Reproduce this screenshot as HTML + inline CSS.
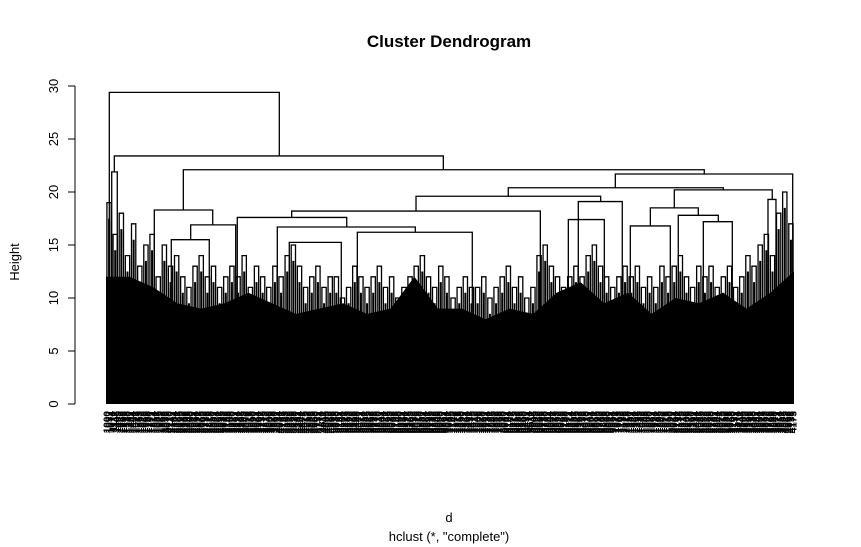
<!DOCTYPE html>
<html><head><meta charset="utf-8"><style>
html,body{margin:0;padding:0;background:#fff;}
svg{display:block;font-family:"Liberation Sans",Arial,sans-serif;}
</style></head><body>
<svg id="chart" width="861" height="547" viewBox="0 0 861 547">
<rect width="861" height="547" fill="#fff"/>
<text x="449" y="47" text-anchor="middle" font-size="17" font-weight="bold">Cluster Dendrogram</text>
<text transform="translate(19,262) rotate(-90)" text-anchor="middle" font-size="13">Height</text>
<text x="449" y="522" text-anchor="middle" font-size="13">d</text>
<text x="449" y="541" text-anchor="middle" font-size="13">hclust (*, "complete")</text>
<g id="yaxis"></g>
<g id="mass"></g>
<g id="tree"></g>
<g id="labels"></g>
</svg>
<script>
const yTicks = [0, 5, 10, 15, 20, 25, 30];
const mergeLeft  = [4.8, 12.1, 112.4, 740.3, 584.7, 450.6, 269.9, 686.5, 826.0, 791.2, 70.2, 123.1, 94.9, 190.8, 249.0, 672.0, 762.1, 831.8, 868.2, 962.2, 365.3, 266.4, 8.3];
const mergeRight = [251.9, 490.3, 869.6, 998.1, 897.2, 719.0, 631.3, 750.4, 968.4, 860.9, 155.1, 188.5, 150.1, 349.9, 449.6, 724.3, 820.2, 890.0, 910.3, 973.8, 532.4, 342.0, 16.4];
const mergeHeight= [29.4, 23.4, 22.1, 21.7, 20.4, 19.6, 18.2, 19.1, 20.2, 18.5, 18.3, 16.9, 15.5, 17.6, 16.7, 17.4, 16.8, 17.8, 17.2, 19.3, 16.2, 15.25, 21.9];
const leftHeight = [22.2, 21.9, 18.3, 20.4, 19.6, 18.2, 17.6, 17.4, 18.5, 16.8, 13.3, 15.5, 14.6, 15.8, 15.25, 15.0, 14.5, 14.5, 15.0, 15.0, 14.0, 14.0, 19.0];
const rightHeight= [23.4, 22.1, 21.7, 20.9, 20.2, 19.1, 15.8, 15.2, 19.3, 17.8, 16.9, 15.8, 14.8, 16.7, 16.2, 15.0, 15.2, 17.2, 14.8, 15.0, 14.5, 14.0, 20.0];
const massHeights = [12, 12, 11, 9.5, 9, 9.5, 10.5, 9.5, 8.5, 9, 9.5, 8.5, 9, 12, 9, 9, 8, 9, 8.5, 10.5, 11.5, 9.5, 10.5, 8.5, 10, 9.5, 10.5, 9, 10.5, 12.5];
const leafTops = [
 19,16,18,14,17,13,15,16,12,15,13,14,12,11,13,14,12,13,11,12,
 13,12,14,11,13,12,11,13,12,14,15,13,11,12,13,11,12,12,10,11,
 13,12,11,12,13,11,12,10,11,12,13,14,12,11,13,12,10,11,12,11,
 11,12,10,11,12,13,11,12,10,11,14,15,13,12,11,12,13,12,14,15,
 13,12,11,12,13,12,13,11,12,11,13,12,13,14,12,11,13,12,13,11,
 12,13,11,12,14,13,15,16,14,18,20,17];
const leafCount = 330;

const NS = "http://www.w3.org/2000/svg";
const X0 = 106, X1 = 794, Y0 = 404, Y30 = 86;
const xs = i => X0 + (i / 1000) * (X1 - X0);
const ys = h => Y0 - (h / 30) * (Y0 - Y30);
function mk(tag, attrs, parent) {
  const e = document.createElementNS(NS, tag);
  for (const k in attrs) e.setAttribute(k, attrs[k]);
  parent.appendChild(e);
  return e;
}
const ya = document.getElementById('yaxis');
const axl = mk('line', {x1: 75, x2: 75, y1: ys(0), y2: ys(30), stroke: '#000', 'stroke-width': 1}, ya);


yTicks.forEach(t => {
  const tk = mk('line', {x1: 68, x2: 75, y1: ys(t), y2: ys(t), stroke: '#000', 'stroke-width': 1}, ya);
  
  
  const tl = mk('text', {transform: `translate(58,${ys(t)}) rotate(-90)`, 'text-anchor': 'middle', 'font-size': 13}, ya);
  tl.textContent = t;
  
  
});
const mg = document.getElementById('mass');
let pts = [];
massHeights.forEach((h, k) => {
  const i = k * 1000 / (massHeights.length - 1);
  pts.push(xs(i) + ',' + ys(h));
});
const poly = mk('polygon', {points: xs(0) + ',' + ys(0) + ' ' + pts.join(' ') + ' ' + xs(1000) + ',' + ys(0), fill: '#000'}, mg);


for (let k = 0; k < leafTops.length; k++) {
  const i = (k + 0.5) * 1000 / leafTops.length;
  const w = 1000 / leafTops.length * 0.35;
  const h = leafTops[k];
  const p = mk('path', {d: `M${xs(i - w)},${ys(0)}V${ys(h)}H${xs(i + w)}V${ys(0)}`, fill: 'none', stroke: '#000', 'stroke-width': 1.3}, mg);
  
  
  const q = mk('line', {x1: xs(i), x2: xs(i), y1: ys(0), y2: ys(h - 1.5), stroke: '#000', 'stroke-width': 2}, mg);
  
  
}
const tg = document.getElementById('tree');
const mergedAt = mergeLeft.map((l, k) => [(l + mergeRight[k]) / 2, mergeHeight[k]]);
function isNode(x, h) { return mergedAt.some(m => Math.abs(m[0] - x) < 3 && Math.abs(m[1] - h) < 0.3); }
mergeLeft.forEach((l, k) => {
  const r = mergeRight[k], h = mergeHeight[k];
  const lb = isNode(l, leftHeight[k]) ? leftHeight[k] : 0;
  const rb = isNode(r, rightHeight[k]) ? rightHeight[k] : 0;
  const p = mk('path', {d: `M${xs(l)},${ys(lb)}V${ys(h)}H${xs(r)}V${ys(rb)}`, fill: 'none', stroke: '#000', 'stroke-width': 1.3}, tg);
  
  
});
const lg = document.getElementById('labels');
for (let i = 0; i < leafCount; i++) {
  const x = xs((i + 0.5) * 1000 / leafCount) + 3.5;
  const t = mk('text', {transform: `translate(${x},411) rotate(-90)`, 'text-anchor': 'end', 'font-size': 10, 'font-weight': 'bold'}, lg);
  t.textContent = String(1000 + (i * 37) % 9000);
  
  
}
</script>
</body></html>
